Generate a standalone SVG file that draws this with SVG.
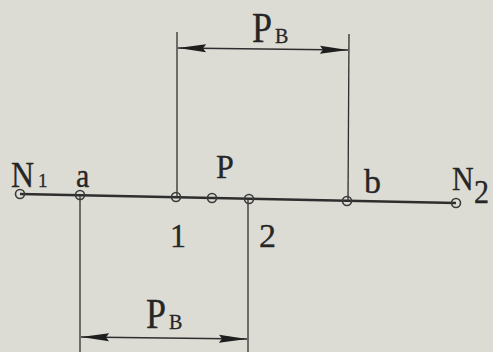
<svg xmlns="http://www.w3.org/2000/svg" width="493" height="352" viewBox="0 0 493 352">
<defs>
<style>
.ln{stroke:#2e2e2e;fill:none}
.main{stroke-width:2.6}
.thin{stroke-width:1.3}
.pt{fill:none;stroke:#3a3a3a;stroke-width:1.6}
text{font-family:"Liberation Serif","Times New Roman",serif;fill:#262626;font-size:32px;stroke:#262626;stroke-width:0.3}
.sub{font-size:20px}
</style>
<marker id="ah" markerWidth="28" markerHeight="9" refX="28" refY="4.5" orient="auto-start-reverse" markerUnits="userSpaceOnUse">
<path d="M0,0.5 L28,4.5 L0,8.5 L3,4.5 Z" fill="#1e1e1e"/>
</marker>
</defs>
<rect width="493" height="352" fill="#dcdcd5"/>
<g id="connectors">
<line class="ln main" x1="20" y1="194" x2="456" y2="203"/>
<line class="ln thin" x1="177" y1="32" x2="177" y2="197"/>
<line class="ln thin" x1="349" y1="34" x2="348" y2="201"/>
<line class="ln thin" x1="80" y1="195" x2="80" y2="352"/>
<line class="ln thin" x1="248" y1="199" x2="248" y2="352"/>
<line class="ln thin" x1="178" y1="48" x2="348" y2="50" marker-start="url(#ah)" marker-end="url(#ah)"/>
<line class="ln thin" x1="81" y1="337" x2="247" y2="339" marker-start="url(#ah)" marker-end="url(#ah)"/>
</g>
<g id="N1"><circle class="pt" cx="20" cy="194" r="4.5"/><text x="11" y="187" transform="translate(11,187) scale(1,1.12) translate(-11,-187)">N</text><text x="38" y="187" style="font-size:19px">1</text></g>
<g id="a"><circle class="pt" cx="80" cy="195" r="4.5"/><text x="76" y="187" style="font-size:30px" transform="translate(76,187) scale(1,1.12) translate(-76,-187)">a</text></g>
<g id="n1"><circle class="pt" cx="176" cy="197" r="4.5"/><text x="170" y="247" transform="translate(170,247) scale(1,1.05) translate(-170,-247)">1</text></g>
<g id="P"><circle class="pt" cx="212" cy="198" r="4.5"/><text x="216" y="178" transform="translate(216,178) scale(1,1.05) translate(-216,-178)">P</text></g>
<g id="n2"><circle class="pt" cx="249" cy="199" r="4.5"/><text x="259" y="247" style="font-size:34px">2</text></g>
<g id="b"><circle class="pt" cx="347" cy="201" r="4.5"/><text x="364" y="193" style="font-size:34px">b</text></g>
<g id="N2"><circle class="pt" cx="456" cy="203" r="4.5"/><text x="452" y="190" style="font-size:30px" transform="translate(452,190) scale(1,1.12) translate(-452,-190)">N</text><text x="474" y="203" style="font-size:30px" transform="translate(474,203) scale(1,1.1) translate(-474,-203)">2</text></g>
<g id="PB_top"><text x="252" y="42" style="font-size:36px" transform="translate(252,42) scale(1,1.2) translate(-252,-42)">P</text><text class="sub" x="275" y="43">B</text></g>
<g id="PB_bottom"><text x="146" y="328" style="font-size:36px" transform="translate(146,328) scale(1,1.2) translate(-146,-328)">P</text><text class="sub" x="169" y="329">B</text></g>
</svg>
